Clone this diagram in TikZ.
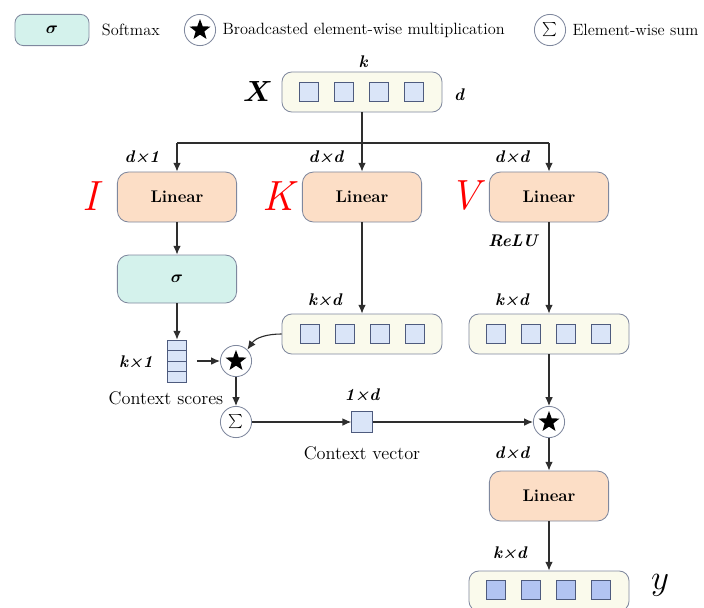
\documentclass[tikz,border=0pt]{standalone}
\usepackage{bm}
\usetikzlibrary{positioning, shapes.geometric, arrows.meta}

\definecolor{linfill}{HTML}{FCDEC6}
\definecolor{softfill}{HTML}{D4F2EC}
\definecolor{holdfill}{HTML}{FAFAEC}
\definecolor{cellfill}{HTML}{DAE5F8}
\definecolor{outfill}{HTML}{B2C4F2}
\definecolor{edgegray}{HTML}{7F889E}
\definecolor{celledge}{HTML}{4E5B7E}
\definecolor{linkgray}{HTML}{2E2E2E}

\begin{document}
\begin{tikzpicture}[
			x=0.025cm, y=-0.025cm,
			line width=0.8pt,
			>={Latex[length=2.2mm, width=1.9mm]},
			link/.style={draw=linkgray, line width=0.8pt},
			linbox/.style={draw=edgegray, line width=0.6pt, fill=linfill, rounded corners=8pt, minimum width=2.98cm, minimum height=1.25cm, font=\large\bfseries},
			softbox/.style={linbox, fill=softfill},
			holder/.style={draw=edgegray, line width=0.6pt, fill=holdfill, rounded corners=7pt, minimum width=4cm, minimum height=1cm},
			cell/.style={draw=celledge, line width=0.5pt, fill=cellfill, minimum size=0.47cm, inner sep=0pt},
			outcell/.style={cell, fill=outfill},
			opcircle/.style={circle, draw=edgegray, line width=0.6pt, fill=white, minimum size=0.78cm, inner sep=0pt},
			starmark/.style={star, star points=5, star point ratio=2.4, fill=black, minimum size=0.55cm, inner sep=0pt},
			dims/.style={font=\large\bfseries\itshape},
			wlabel/.style={font=\fontsize{30}{32}\selectfont\itshape, text=red},
			legtext/.style={font=\fontsize{11.6}{14}\selectfont, inner sep=0pt},
			note/.style={font=\fontsize{13}{15}\selectfont}
			]
			\useasboundingbox (0,0) rectangle (704,607);

			\node[softbox, minimum width=1.85cm, minimum height=0.78cm, rounded corners=6pt] (lsoft) at (52,30) {$\bm{\sigma}$};
			\node[legtext, right=0.3cm of lsoft] (lsofttext) {Softmax};
			\node[opcircle] (lmul) at (200,30) {};
			\node[starmark] at (lmul) {};
			\node[legtext, right=0.15cm of lmul] (lmultext) {Broadcasted element-wise multiplication};
			\node[opcircle, font=\large] (lsum) at (550,30) {$\sum$};
			\node[legtext, right=0.15cm of lsum] (lsumtext) {Element-wise sum};

			\node[holder] (xhold) at (362,92) {};
			\foreach \i/\cx in {1/309, 2/344, 3/379, 4/414}
				\node[cell] (xc\i) at (\cx,92) {};
			\node[dims] at (363,62) {k};
			\node[dims] at (459,95) {d};
			\node[font=\fontsize{22}{24}\selectfont] at (258,91) {$\bm{X}$};

			\coordinate (split) at (362,143);
			\node[linbox] (ilin) at (177,197) {Linear};
			\node[linbox] (klin) at (362,197) {Linear};
			\node[linbox] (vlin) at (549,197) {Linear};
			\node[wlabel] at (90,196) {I};
			\node[wlabel] at (278,196) {K};
			\node[wlabel] at (465,196) {V};
			\node[dims] at (142,157) {d×1};
			\node[dims] at (326,157) {d×d};
			\node[dims] at (512,157) {d×d};
			\node[dims] at (513,241) {ReLU};

			\node[softbox, minimum height=1.2cm] (soft) at (177,279) {$\bm{\sigma}$};

			\node[holder] (khold) at (362,334) {};
			\foreach \i/\cx in {1/310, 2/345, 3/380, 4/415}
				\node[cell] (kc\i) at (\cx,334) {};
			\node[holder] (vhold) at (549,334) {};
			\foreach \i/\cx in {1/496, 2/531, 3/566, 4/601}
				\node[cell] (vc\i) at (\cx,334) {};
			\node[dims] at (325,300) {k×d};
			\node[dims] at (512,300) {k×d};

			\node[cell, minimum width=0.48cm, minimum height=1.05cm] (scores) at (177,361) {};
			\foreach \yy in {350.5, 361, 371.5}
				\draw[celledge, line width=0.5pt] (scores.west |- 0,\yy) -- (scores.east |- 0,\yy);
			\node[dims] at (136,362) {k×1};
			\node[note] at (166,398) {Context scores};

			\node[opcircle] (mul) at (236,361) {};
			\node[starmark] at (mul) {};
			\node[opcircle, font=\large] (sum) at (236,422) {$\sum$};

			\node[cell, minimum size=0.52cm] (ctx) at (362,422) {};
			\node[dims] at (362,395) {1×d};
			\node[note] at (362,453) {Context vector};

			\node[opcircle] (mul2) at (549,422) {};
			\node[starmark] at (mul2) {};
			\node[dims] at (512,453) {d×d};

			\node[linbox] (olin) at (549,496) {Linear};
			\node[dims] at (510,553) {k×d};

			\node[holder] (ohold) at (549,591) {};
			\foreach \i/\cx in {1/496, 2/531, 3/566, 4/601}
				\node[outcell] (oc\i) at (\cx,590) {};
			\node[font=\fontsize{30}{32}\selectfont] at (660,585) {$y$};

			\draw[link, ->] (xhold.south) -- (klin.north);
			\draw[link] (ilin.north |- split) -- (vlin.north |- split);
			\draw[link, ->] (ilin.north |- split) -- (ilin.north);
			\draw[link, ->] (vlin.north |- split) -- (vlin.north);
			\draw[link, ->] (ilin) -- (soft);
			\draw[link, ->] (soft) -- (scores);
			\draw[link, ->] (klin) -- (khold);
			\draw[link, ->] (vlin) -- (vhold);
			\draw[link, ->, shorten <=7pt] (scores) -- (mul);
			\draw[link, ->] (khold.west) to[out=180, in=55] (mul.north east);
			\draw[link, ->] (mul) -- (sum);
			\draw[link, ->] (sum) -- (ctx);
			\draw[link, ->] (ctx) -- (mul2);
			\draw[link, ->] (vhold) -- (mul2);
			\draw[link, ->] (mul2) -- (olin);
			\draw[link, ->] (olin) -- (ohold);
		\end{tikzpicture}
\end{document}
